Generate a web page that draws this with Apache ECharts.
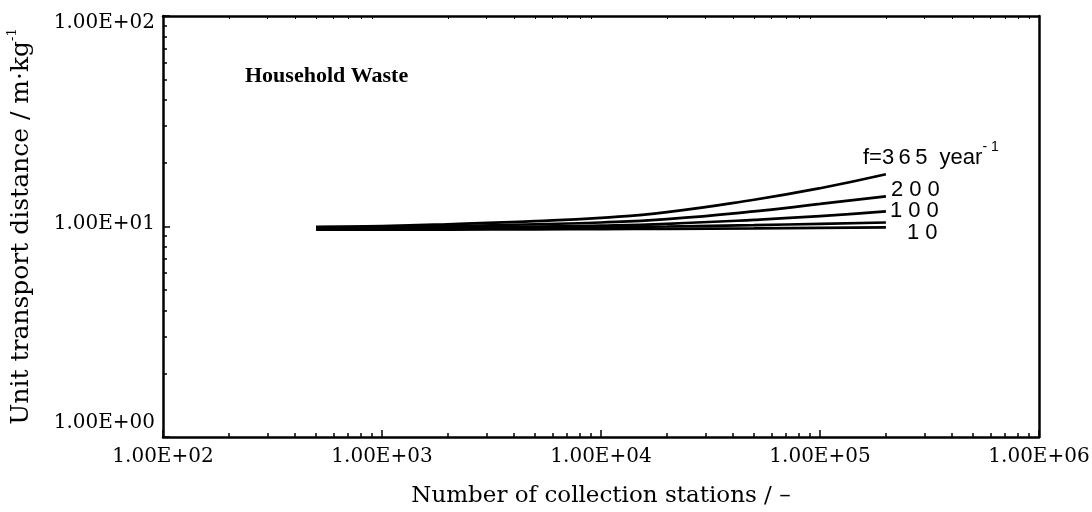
<!DOCTYPE html>
<html>
<head>
<meta charset="utf-8">
<script src="https://cdn.jsdelivr.net/npm/echarts@6/dist/echarts.min.js"></script>
<style>
  html, body { margin: 0; padding: 0; background: #fff; }
  #chart { width: 1092px; height: 512px; }
</style>
</head>
<body>
<div id="chart"></div>
<script>
// number of collection stations (x) and unit transport distance per frequency (y)
var stations = [500, 1000, 2000, 5000, 10000, 20000, 50000, 100000, 200000]
var f365 = [9.95, 10.05, 10.25, 10.6, 11.0, 11.7, 13.4, 15.2, 17.7]
var f200 = [9.9, 9.95, 10.05, 10.25, 10.45, 10.85, 11.8, 12.8, 13.9]
var f100 = [9.85, 9.88, 9.92, 10.0, 10.1, 10.3, 10.75, 11.2, 11.8]
var f50 = [9.8, 9.8, 9.82, 9.87, 9.93, 10.0, 10.15, 10.3, 10.45]
var f10 = [9.65, 9.66, 9.67, 9.7, 9.72, 9.75, 9.8, 9.85, 9.9]

var xMajor = [100, 1000, 10000, 100000, 1000000]
var xMinor = [200, 300, 400, 500, 600, 700, 800, 900,
  2000, 3000, 4000, 5000, 6000, 7000, 8000, 9000,
  20000, 30000, 40000, 50000, 60000, 70000, 80000, 90000,
  200000, 300000, 400000, 500000, 600000, 700000, 800000, 900000]
var yMajor = [1, 10, 100]
var yMinor = [2, 3, 4, 5, 6, 7, 8, 9, 20, 30, 40, 50, 60, 70, 80, 90]

var SERIF = '"DejaVu Serif", "Liberation Serif", serif'
var SANS = '"Liberation Sans", Arial, sans-serif'
var INK = '#000'

function sci(v) {
  var e = Math.round(Math.log10(v))
  return '1.00E' + (e < 0 ? '-' : '+') + (Math.abs(e) < 10 ? '0' : '') + Math.abs(e)
}

function toPairs(ys) {
  return stations.map(function (x, i) { return [x, ys[i]] })
}

function curve(name, ys, label) {
  return {
    name: name,
    type: 'line',
    smooth: true,
    symbol: 'none',
    data: toPairs(ys),
    lineStyle: { color: INK, width: 2.7 },
    endLabel: label
  }
}

function bareAxis(extra) {
  var base = {
    type: 'log',
    logBase: 10,
    gridIndex: 0,
    splitLine: { show: false },
    axisLabel: { show: false },
    axisLine: { show: false }
  }
  return Object.assign(base, extra)
}

var chart = echarts.init(document.getElementById('chart'))

chart.setOption({
  animation: false,
  backgroundColor: '#fff',
  title: {
    text: 'Household Waste',
    left: 245,
    top: 65,
    padding: 0,
    textStyle: { fontFamily: '"Liberation Serif", serif', fontWeight: 'bold', fontSize: 22, color: INK }
  },
  grid: { left: 163, right: 53, top: 16, bottom: 75, containLabel: false, outerBoundsMode: 'none' },
  xAxis: [
    {
      type: 'log',
      logBase: 10,
      min: 100,
      max: 1000000,
      position: 'bottom',
      name: 'Number of collection stations / \u2013',
      nameLocation: 'middle',
      nameGap: 48,
      nameTextStyle: { fontFamily: SERIF, fontSize: 23, color: INK },
      axisLine: { show: true, lineStyle: { color: INK, width: 2.5 } },
      axisTick: { inside: true, length: 7, customValues: xMajor, lineStyle: { color: INK, width: 1.5 } },
      axisLabel: { customValues: xMajor, formatter: sci, margin: 10, fontFamily: SERIF, fontSize: 20, color: INK },
      splitLine: { show: false }
    },
    bareAxis({
      min: 100, max: 1000000, position: 'bottom',
      axisTick: { inside: true, length: 4, customValues: xMinor, lineStyle: { color: INK, width: 1.5 } }
    }),
    bareAxis({
      min: 100, max: 1000000, position: 'top',
      axisLine: { show: true, lineStyle: { color: INK, width: 2.5 } },
      axisTick: { inside: true, length: 3, customValues: xMinor, lineStyle: { color: INK, width: 1 } }
    })
  ],
  yAxis: [
    {
      type: 'log',
      logBase: 10,
      min: 1,
      max: 100,
      position: 'left',
      name: 'Unit transport distance / m\u00b7kg{sup|-1}',
      nameLocation: 'middle',
      nameGap: 127,
      nameRotate: 90,
      nameTextStyle: {
        fontFamily: SERIF, fontSize: 25, color: INK,
        rich: { sup: { fontFamily: SERIF, fontSize: 13, color: INK, verticalAlign: 'top', lineHeight: 30 } }
      },
      axisLine: { show: true, lineStyle: { color: INK, width: 2.5 } },
      axisTick: { inside: true, length: 7, customValues: yMajor, lineStyle: { color: INK, width: 1.5 } },
      axisLabel: {
        customValues: yMajor,
        margin: 8,
        formatter: function (v) {
          if (v < 2) return '{lo|' + sci(v) + '}'
          if (v > 50) return '{hi|' + sci(v) + '}'
          return '{n|' + sci(v) + '}'
        },
        rich: {
          n: { fontFamily: SERIF, fontSize: 20, color: INK, padding: [0, 0, 6, 0] },
          lo: { fontFamily: SERIF, fontSize: 20, color: INK, padding: [0, 0, 28, 0] },
          hi: { fontFamily: SERIF, fontSize: 20, color: INK, padding: [14, 0, 0, 0] }
        }
      },
      splitLine: { show: false }
    },
    bareAxis({
      min: 1, max: 100, position: 'left',
      axisTick: { inside: true, length: 4, customValues: yMinor, lineStyle: { color: INK, width: 1.5 } }
    }),
    bareAxis({
      min: 1, max: 100, position: 'right',
      axisLine: { show: true, lineStyle: { color: INK, width: 2.5 } },
      axisTick: { show: false }
    })
  ],
  series: [
    curve('365', f365, {
      show: true,
      offset: [-31, -16],
      formatter: '{a|f=3\u20096\u20095  year}{s|- 1}',
      rich: {
        a: { fontFamily: SANS, fontSize: 22, color: INK },
        s: { fontFamily: SANS, fontSize: 14, color: INK, padding: [0, 0, 22, 0] }
      }
    }),
    curve('200', f200, {
      show: true, offset: [-3, -6], formatter: '2 0 0',
      fontFamily: SANS, fontSize: 22, color: INK
    }),
    curve('100', f100, {
      show: true, offset: [-4, 0], formatter: '1 0 0',
      fontFamily: SANS, fontSize: 22, color: INK
    }),
    curve('50', f50, { show: false }),
    curve('10', f10, {
      show: true, offset: [13, 6], formatter: '1 0',
      fontFamily: SANS, fontSize: 22, color: INK
    })
  ]
})
</script>
</body>
</html>
